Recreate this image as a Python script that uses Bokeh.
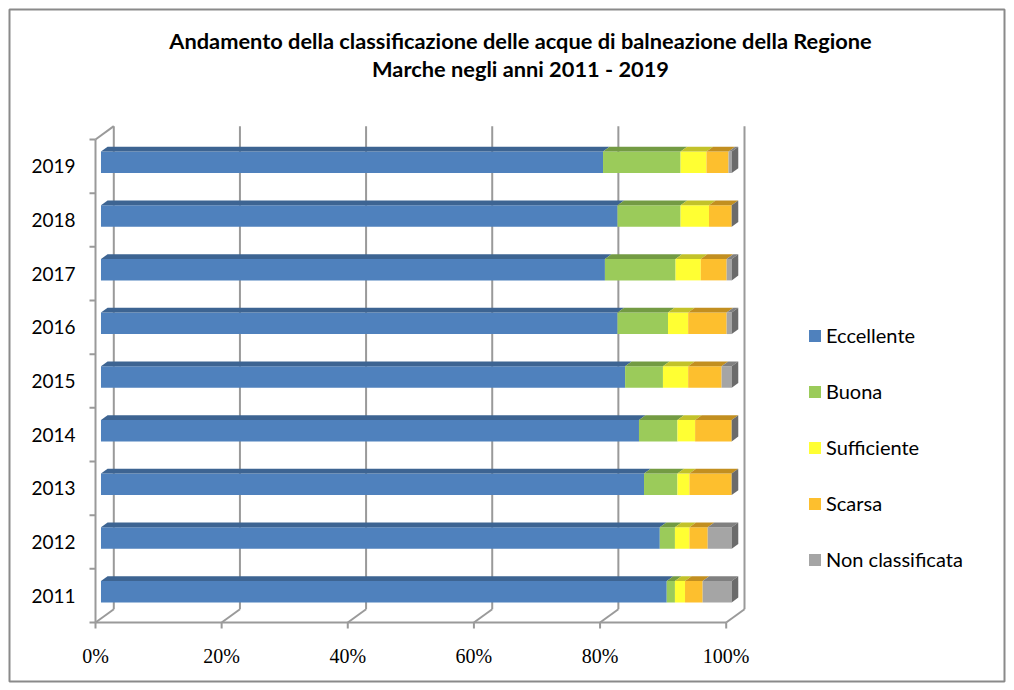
from bokeh.plotting import figure
from bokeh.models import Range1d, ColumnDataSource, Legend, LegendItem
from bokeh.core.properties import value
from bokeh.embed import file_html
from bokeh.resources import INLINE

# ---------------- data ----------------
years = ["2011", "2012", "2013", "2014", "2015", "2016", "2017", "2018", "2019"]
categories = ["Eccellente", "Buona", "Sufficiente", "Scarsa", "Non classificata"]
eccellente = [89.7, 88.6, 86.1, 85.3, 83.1, 81.9, 79.9, 81.9, 79.6]
buona = [1.3, 2.4, 5.3, 6.1, 6.0, 8.0, 11.2, 10.0, 12.3]
sufficiente = [1.6, 2.3, 1.9, 2.8, 4.0, 3.2, 4.0, 4.5, 4.1]
scarsa = [2.8, 2.9, 6.7, 5.8, 5.3, 6.1, 4.1, 3.6, 3.5]
non_classificata = [4.6, 3.8, 0.0, 0.0, 1.6, 0.8, 0.8, 0.0, 0.5]
x_ticks = [0, 20, 40, 60, 80, 100]
x_tick_labels = ["0%", "20%", "40%", "60%", "80%", "100%"]
title_lines = ["Andamento della classificazione delle acque di balneazione della Regione",
               "Marche negli anni 2011 - 2019"]

series = [eccellente, buona, sufficiente, scarsa, non_classificata]

# ---------------- style ----------------
front_colors = ["#4F81BD", "#9BCB5A", "#FFFF33", "#FDBF2E", "#A5A5A5"]
top_colors = ["#3D6492", "#739B43", "#C2C22A", "#C28F20", "#808080"]
side_color = "#6B6B6B"
wall_color = "#9A9A9A"

W, H = 1006, 683
ML, MT, MR, MB = 9, 9, 2, 2
FW, FH = W - ML - MR, H - MT - MB
PXX = 6.307   # px per percent
PXY = 53.67   # px per category
X0, Y0 = 86, 613  # frame px of origin
p = figure(width=W, height=H, output_backend="svg", toolbar_location=None,
           x_range=Range1d(-X0 / PXX, (FW - X0) / PXX),
           y_range=Range1d((Y0 - FH) / PXY, Y0 / PXY),
           x_axis_location=None, y_axis_location=None,
           min_border_left=ML, min_border_top=MT, min_border_right=MR, min_border_bottom=MB,
           background_fill_color="white", border_fill_color="white")
p.grid.visible = False
p.outline_line_color = "#8A8A8A"
p.outline_line_width = 2

n = len(years)
DX, DY = 18.3 / PXX, 13.3 / PXY      # depth of the 3D box
OX, OY = 0.30 * DX, 0.30 * DY         # bar front offset
BX, BY = 0.36 * DX, 0.36 * DY         # bar depth
HALF = 0.2

# ---------------- walls ----------------
p.segment(x0=[t + DX for t in x_ticks], y0=[DY] * len(x_ticks),
          x1=[t + DX for t in x_ticks], y1=[n + DY] * len(x_ticks),
          line_color=wall_color, line_width=2)
p.segment(x0=x_ticks, y0=[0] * len(x_ticks), x1=[t + DX for t in x_ticks], y1=[DY] * len(x_ticks),
          line_color=wall_color, line_width=2)
p.segment(x0=[0, 0, 0], y0=[0, n, 0], x1=[0, DX, x_ticks[-1]], y1=[n, n + DY, 0],
          line_color=wall_color, line_width=2)
# tick marks
p.segment(x0=[-6 / PXX] * (n + 1), y0=list(range(n + 1)), x1=[0] * (n + 1), y1=list(range(n + 1)),
          line_color=wall_color, line_width=2)
p.segment(x0=x_ticks, y0=[0] * len(x_ticks), x1=x_ticks, y1=[-6 / PXY] * len(x_ticks),
          line_color=wall_color, line_width=2)

# ---------------- bars ----------------
cum = [0.0] * n
legend_items = []
for j, vals in enumerate(series):
    left = [cum[i] for i in range(n)]
    right = [cum[i] + vals[i] for i in range(n)]
    cum = right
    src = ColumnDataSource(dict(
        left=[l + OX for l in left], right=[r + OX for r in right],
        bottom=[i + 0.5 - HALF + OY for i in range(n)],
        top=[i + 0.5 + HALF + OY for i in range(n)]))
    r = p.quad(left="left", right="right", bottom="bottom", top="top", source=src,
               fill_color=front_colors[j], line_color=None)
    legend_items.append(LegendItem(label=categories[j], renderers=[r]))
    xs, ys = [], []
    for i in range(n):
        if vals[i] <= 0:
            continue
        t = i + 0.5 + HALF + OY
        xs.append([left[i] + OX, right[i] + OX, right[i] + OX + BX, left[i] + OX + BX])
        ys.append([t, t, t + BY, t + BY])
    p.patches(xs=xs, ys=ys, fill_color=top_colors[j], line_color=None)

# side faces at the end of each stack
sxs, sys_ = [], []
for i in range(n):
    e = cum[i] + OX
    b = i + 0.5 - HALF + OY
    t = i + 0.5 + HALF + OY
    sxs.append([e, e + BX, e + BX, e])
    sys_.append([b, b + BY, t + BY, t])
p.patches(xs=sxs, ys=sys_, fill_color=side_color, line_color=None)

# ---------------- labels ----------------
p.text(x=[-20 / PXX] * n, y=[i + 0.5 for i in range(n)], text=years,
       text_font=value("Lato"), text_font_size="19px", text_align="right",
       text_baseline="middle", text_color="black")
p.text(x=x_ticks, y=[-33 / PXY] * len(x_ticks), text=x_tick_labels,
       text_font=value("Liberation Serif"), text_font_size="20px", text_align="center",
       text_baseline="middle", text_color="black")
p.text(x=[425 / PXX] * 2, y=[(622 - 40) / PXY, (622 - 68) / PXY], text=title_lines,
       text_font=value("Lato"), text_font_style="bold", text_font_size="21.8px",
       text_align="center", text_baseline="middle", text_color="black")

legend = Legend(items=legend_items, location=(798, 110), orientation="vertical",
                glyph_width=15, glyph_height=15, label_height=20, spacing=32,
                label_standoff=4, padding=0, margin=0,
                label_text_font="Lato", label_text_font_size="20px",
                label_text_color="black",
                border_line_alpha=0, background_fill_alpha=0)
p.add_layout(legend, "center")

open("out.html", "w").write(file_html(p, INLINE))
